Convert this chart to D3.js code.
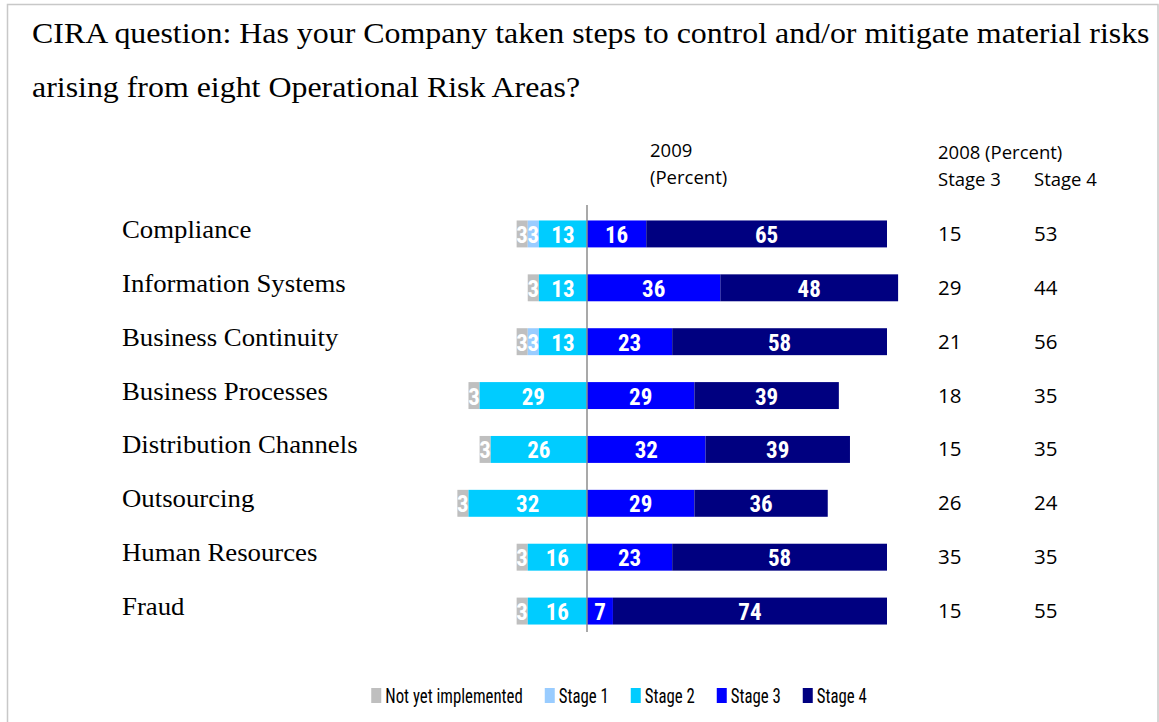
<!DOCTYPE html>
<html>
<head>
<meta charset="utf-8">
<script src="https://cdn.jsdelivr.net/npm/d3@7"></script>
<style>
  html, body { margin: 0; padding: 0; background: #fff; }
  svg { display: block; }
</style>
</head>
<body>
<svg id="chart" width="1159" height="722"></svg>
<script>
// Operational risk areas and the 2009 response shares (percent)
const categories = [
  "Compliance", "Information Systems", "Business Continuity", "Business Processes",
  "Distribution Channels", "Outsourcing", "Human Resources", "Fraud"
];
const notYetImplemented = [3, 3, 3, 3, 3, 3, 3, 3];
const stage1 = [3, 0, 3, 0, 0, 0, 0, 0];
const stage2 = [13, 13, 13, 29, 26, 32, 16, 16];
const stage3 = [16, 36, 23, 29, 32, 29, 23, 7];
const stage4 = [65, 48, 58, 39, 39, 36, 58, 74];

// 2008 comparison columns (percent)
const stage3_2008 = [15, 29, 21, 18, 15, 26, 35, 15];
const stage4_2008 = [53, 44, 56, 35, 35, 24, 35, 55];

const seriesNames = ["Not yet implemented", "Stage 1", "Stage 2", "Stage 3", "Stage 4"];
const seriesColors = ["#BFBFBF", "#99CCFF", "#00CCFF", "#0000FF", "#000080"];

const titleLines = [
  "CIRA question: Has your Company taken steps to control and/or mitigate material risks",
  "arising from eight Operational Risk Areas?"
];

const svg = d3.select("#chart");
const serif = "'Liberation Serif', 'Times New Roman', serif";
const narrow = "'Liberation Sans Narrow', 'Arial Narrow', 'Roboto Condensed', sans-serif";

// outer frame
svg.append("rect")
  .attr("x", 7.5).attr("y", 4.5)
  .attr("width", 1150.5).attr("height", 740)
  .attr("fill", "none").attr("stroke", "#C8C8C8").attr("stroke-width", 1.5);

// title (slightly widened type)
svg.append("g").selectAll("text").data(titleLines).join("text")
  .attr("transform", (d, i) => `translate(32,${43 + i * 54}) scale(1.1,1)`)
  .attr("font-family", serif)
  .attr("font-size", 29)
  .attr("fill", "#000")
  .text(d => d);

// scales
const x = d3.scaleLinear().domain([0, 81]).range([587, 887]);
const y = d3.scaleBand().domain(categories).range([207, 638]).paddingInner(0.5).paddingOuter(0.25);

// stacked segments: the first three run leftwards from zero, stages 3 and 4 run rightwards
const rows = categories.map((c, i) => {
  const left = [notYetImplemented[i], stage1[i], stage2[i]];
  const right = [stage3[i], stage4[i]];
  const segs = [];
  let pos = -d3.sum(left);
  left.forEach((v, k) => { segs.push({ cat: c, k, v, x0: pos, x1: pos + v }); pos += v; });
  pos = 0;
  right.forEach((v, k) => { segs.push({ cat: c, k: k + 3, v, x0: pos, x1: pos + v }); pos += v; });
  return segs.filter(s => s.v > 0);
});
const segments = rows.flat();

const barG = svg.append("g");
barG.selectAll("rect").data(segments).join("rect")
  .attr("x", d => x(d.x0))
  .attr("y", d => y(d.cat))
  .attr("width", d => x(d.x1) - x(d.x0))
  .attr("height", y.bandwidth())
  .attr("fill", d => seriesColors[d.k]);

barG.selectAll("text").data(segments).join("text")
  .attr("x", d => (x(d.x0) + x(d.x1)) / 2)
  .attr("y", d => y(d.cat) + y.bandwidth() / 2 + 9)
  .attr("text-anchor", "middle")
  .attr("font-family", narrow)
  .attr("font-weight", "bold")
  .attr("font-size", 23)
  .attr("fill", "#fff")
  .text(d => d.v);

// zero line
svg.append("line")
  .attr("x1", x(0)).attr("x2", x(0))
  .attr("y1", y.range()[0] - 2).attr("y2", y.range()[1] - 6)
  .attr("stroke", "#8C8C8C").attr("stroke-width", 1.5);

// category labels
svg.append("g").selectAll("text").data(categories).join("text")
  .attr("transform", d => `translate(122,${y(d) + y.bandwidth() / 2 + 4}) scale(1.05,1)`)
  .attr("font-family", serif)
  .attr("font-size", 25.5)
  .attr("fill", "#000")
  .text(d => d);

// column headers
const headFont = "'Open Sans', Lato, sans-serif";
const headers = [
  { t: "2009", x: 650, y: 157 },
  { t: "(Percent)", x: 650, y: 184 },
  { t: "2008 (Percent)", x: 938, y: 159 },
  { t: "Stage 3", x: 938, y: 186 },
  { t: "Stage 4", x: 1034, y: 186 }
];
svg.append("g").selectAll("text").data(headers).join("text")
  .attr("x", d => d.x).attr("y", d => d.y)
  .attr("font-family", headFont)
  .attr("font-size", 18.5)
  .attr("fill", "#000")
  .text(d => d.t);

// 2008 values
const col2008 = [
  { vals: stage3_2008, x: 938 },
  { vals: stage4_2008, x: 1034 }
];
col2008.forEach(col => {
  svg.append("g").selectAll("text").data(categories).join("text")
    .attr("x", col.x)
    .attr("y", (d, i) => y(d) + y.bandwidth() / 2 + 7)
    .attr("font-family", headFont)
    .attr("font-size", 20.5)
    .attr("fill", "#000")
    .text((d, i) => col.vals[i]);
});

// legend
const legendScaleX = 0.8;
const legend = svg.append("g");
const items = legend.selectAll("g").data(seriesNames).join("g");
items.append("rect")
  .attr("width", 10).attr("height", 15)
  .attr("y", -15)
  .attr("fill", (d, i) => seriesColors[i]);
items.append("text")
  .attr("transform", `translate(14,0) scale(${legendScaleX},1)`)
  .attr("font-family", narrow)
  .attr("font-size", 21)
  .attr("fill", "#000")
  .text(d => d);
let cursor = 0;
const offsets = [];
items.each(function () {
  offsets.push(cursor);
  const w = d3.select(this).select("text").node().getComputedTextLength() * legendScaleX;
  cursor += 14 + w + 22;
});
const totalW = cursor - 22;
const legendX = 619 - totalW / 2;
items.attr("transform", (d, i) => `translate(${legendX + offsets[i]},703)`);
</script>
</body>
</html>
